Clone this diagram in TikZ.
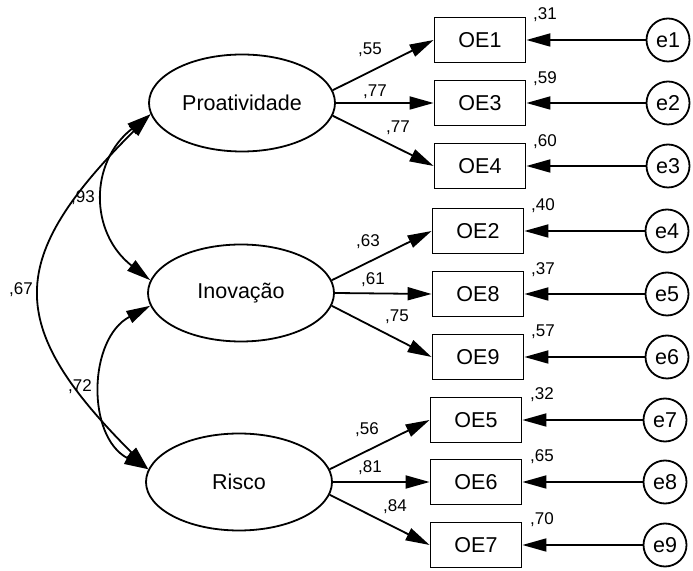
\documentclass[tikz,border=0pt]{standalone}
\usepackage{fontspec}
\setmainfont{Liberation Sans}
\usetikzlibrary{arrows.meta,shapes.geometric}

\begin{document}
\begin{tikzpicture}[x=1pt, y=1pt, line width=1.8pt,
  >={Triangle[length=24pt, width=13pt]},
  latent/.style={draw, ellipse, minimum width=186pt, minimum height=97pt,
                 inner sep=0pt, font=\fontsize{21.5}{25}\selectfont},
  item/.style={draw, minimum width=91pt, minimum height=45pt,
               inner sep=0pt, font=\fontsize{21.5}{25}\selectfont},
  err/.style={draw, circle, minimum size=43pt, inner sep=0pt,
              font=\fontsize{21.5}{25}\selectfont},
  lab/.style={font=\fontsize{17}{20}\selectfont, inner sep=1pt}]
  \useasboundingbox (0,0) rectangle (693,570);
  % latent factors
  \node[latent] (pro) at (242,467) {Proatividade};
  \node[latent] (inov) at (241,277) {Inova\c{c}\~ao};
  \node[latent] (risco) at (239,88) {Risco};
  % items
  \node[item] (oe1) at (480,530) {OE1};
  \node[item] (oe3) at (480,467) {OE3};
  \node[item] (oe4) at (480,404) {OE4};
  \node[item] (oe2) at (478,339) {OE2};
  \node[item] (oe8) at (478,276) {OE8};
  \node[item] (oe9) at (478,213) {OE9};
  \node[item] (oe5) at (476,150) {OE5};
  \node[item] (oe6) at (476,88) {OE6};
  \node[item] (oe7) at (476,25) {OE7};
  % errors
  \node[err] (e1) at (668,530) {e1};
  \node[err] (e2) at (668,467) {e2};
  \node[err] (e3) at (668,404) {e3};
  \node[err] (e4) at (667,339) {e4};
  \node[err] (e5) at (667,276) {e5};
  \node[err] (e6) at (667,213) {e6};
  \node[err] (e7) at (665,150) {e7};
  \node[err] (e8) at (665,88) {e8};
  \node[err] (e9) at (665,25) {e9};
  % loadings
  \draw[->] (pro.8) -- (oe1.west);
  \draw[->] (pro.east) -- (oe3.west);
  \draw[->] (pro.-8) -- (oe4.west);
  \draw[->] (inov.8) -- (oe2.west);
  \draw[->] (inov.east) -- (oe8.west);
  \draw[->] (inov.-8) -- (oe9.west);
  \draw[->] (risco.8) -- (oe5.west);
  \draw[->] (risco.east) -- (oe6.west);
  \draw[->] (risco.-8) -- (oe7.west);
  \node[lab] (w1) at (370,520) {,55};
  \node[lab] (w3) at (375,478) {,77};
  \node[lab] (w4) at (398,442) {,77};
  \node[lab] (w2) at (368,328) {,63};
  \node[lab] (w8) at (373,290) {,61};
  \node[lab] (w9) at (397,253) {,75};
  \node[lab] (w5) at (367,140) {,56};
  \node[lab] (w6) at (370,102) {,81};
  \node[lab] (w7) at (395,63) {,84};
  % error terms
  \draw[->] (e1) -- (oe1);
  \draw[->] (e2) -- (oe3);
  \draw[->] (e3) -- (oe4);
  \draw[->] (e4) -- (oe2);
  \draw[->] (e5) -- (oe8);
  \draw[->] (e6) -- (oe9);
  \draw[->] (e7) -- (oe5);
  \draw[->] (e8) -- (oe6);
  \draw[->] (e9) -- (oe7);
  \node[lab] (r1) at (545,555) {,31};
  \node[lab] (r3) at (545,491) {,59};
  \node[lab] (r4) at (545,428) {,60};
  \node[lab] (r2) at (543,364) {,40};
  \node[lab] (r8) at (543,300) {,37};
  \node[lab] (r9) at (543,238) {,57};
  \node[lab] (r5) at (542,175) {,32};
  \node[lab] (r6) at (542,113) {,65};
  \node[lab] (r7) at (542,50) {,70};
  % correlations
  \draw[<->] (pro.187) to[out=218, in=142, looseness=1.2] (inov.172);
  \draw[<->] (inov.188) to[out=208, in=152, looseness=1.1] (risco.172);
  \draw[<->] (pro.187) to[out=225, in=135, looseness=1.47] (risco.172);
  \node[lab] (c1) at (83,372) {,93};
  \node[lab] (c2) at (80,183) {,72};
  \node[lab] (c3) at (21,280) {,67};
\end{tikzpicture}
\end{document}
